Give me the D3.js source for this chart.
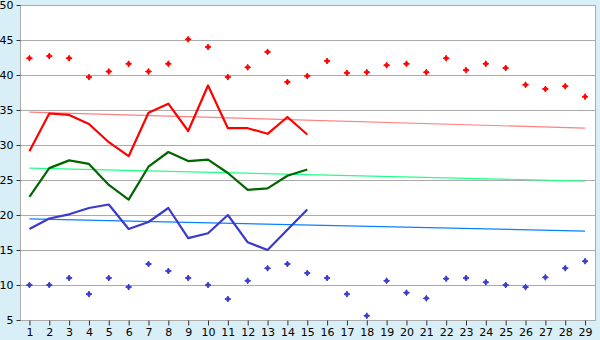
<!DOCTYPE html>
<html>
<head>
<meta charset="utf-8">
<script src="https://cdn.jsdelivr.net/npm/d3@7"></script>
<style>
  body { margin: 0; background: #d9eff7; }
  svg { display: block; font-family: "DejaVu Sans", Verdana, sans-serif; }
</style>
</head>
<body>
<svg width="600" height="340"></svg>
<script>
const days = d3.range(1, 30);
const lineDays = d3.range(1, 16);
const yTicks = [5, 10, 15, 20, 25, 30, 35, 40, 45, 50];

const highPoints = [42.4, 42.7, 42.4, 39.7, 40.5, 41.6, 40.5, 41.6, 45.1, 44.0,
    39.7, 41.1, 43.3, 39.0, 39.85, 42.0, 40.3, 40.4, 41.4, 41.6,
    40.4, 42.4, 40.7, 41.6, 41.0, 38.6, 38.0, 38.4, 36.9];
const lowPoints = [10.0, 10.0, 11.0, 8.7, 11.0, 9.7, 13.0, 12.0, 11.0, 10.0,
    8.0, 10.6, 12.4, 13.0, 11.7, 11.0, 8.7, 5.6, 10.6, 8.9,
    8.1, 10.9, 11.0, 10.4, 10.0, 9.7, 11.1, 12.4, 13.4];

const redLine = [29.1, 34.5, 34.3, 33.0, 30.4, 28.4, 34.6, 35.9, 32.0, 38.5, 32.4, 32.4, 31.6, 34.0, 31.5];
const greenLine = [22.6, 26.7, 27.8, 27.3, 24.3, 22.2, 26.9, 29.0, 27.7, 27.9, 26.0, 23.6, 23.8, 25.6, 26.5];
const blueLine = [18.0, 19.5, 20.1, 21.0, 21.5, 18.0, 19.0, 21.0, 16.7, 17.4, 20.0, 16.1, 15.0, 17.9, 20.8];

// trend lines: value at first and last day
const trendDays = [1, 29];
const redTrend = [34.7, 32.4];
const greenTrend = [26.7, 24.85];
const blueTrend = [19.45, 17.7];

const svg = d3.select('svg');

const plotLeft = 20, plotRight = 595, plotTop = 5, plotBottom = 320;

const x = d3.scaleLinear().domain([0.5, 29.5]).range([plotLeft - 0.5, plotRight]);
const y = d3.scaleLinear().domain([5, 50]).range([plotBottom, plotTop]);

// plot background
svg.append('rect')
    .attr('x', plotLeft + 0.5)
    .attr('y', plotTop + 0.5)
    .attr('width', plotRight - plotLeft)
    .attr('height', plotBottom - plotTop)
    .attr('fill', '#fff')
    .attr('stroke', '#aaa');

// grid
svg.append('g')
    .selectAll('line')
    .data(yTicks.slice(1, -1))
    .join('line')
    .attr('x1', plotLeft + 1)
    .attr('x2', plotRight)
    .attr('y1', d => Math.round(y(d)) + 0.5)
    .attr('y2', d => Math.round(y(d)) + 0.5)
    .attr('stroke', '#aaa');

// y axis
const yAxis = svg.append('g')
    .attr('transform', `translate(${plotLeft + 0.5},0)`)
    .call(d3.axisLeft(y).tickValues(yTicks).tickSize(4).tickPadding(3));
yAxis.select('.domain').remove();
yAxis.selectAll('.tick line').attr('stroke', '#333');
yAxis.selectAll('.tick text')
    .attr('font-size', 11)
    .attr('font-family', '"DejaVu Sans", Verdana, sans-serif')
    .attr('fill', '#000');

// x axis
const xAxis = svg.append('g')
    .attr('transform', `translate(0,${plotBottom + 0.5})`)
    .call(d3.axisBottom(x).tickValues(days).tickFormat(d3.format('d')).tickSize(5).tickPadding(3));
xAxis.select('.domain').remove();
xAxis.selectAll('.tick line').attr('stroke', '#333');
xAxis.selectAll('.tick text')
    .attr('font-size', 11)
    .attr('font-family', '"DejaVu Sans", Verdana, sans-serif')
    .attr('fill', '#000');

// trend lines
const trendLine = d3.line()
    .x((d, i) => x(trendDays[i]))
    .y(d => y(d));

[[redTrend, '#ff8080'], [greenTrend, '#22ff88'], [blueTrend, '#0a80ff']].forEach(([data, color]) => {
    svg.append('path')
        .attr('d', trendLine(data))
        .attr('fill', 'none')
        .attr('stroke', color)
        .attr('stroke-width', 1.2);
});

// main lines
const line = d3.line()
    .x((d, i) => x(lineDays[i]))
    .y(d => y(d));

[[redLine, '#ff0000'], [greenLine, '#006600'], [blueLine, '#3a3acc']].forEach(([data, color]) => {
    svg.append('path')
        .attr('d', line(data))
        .attr('fill', 'none')
        .attr('stroke', color)
        .attr('stroke-width', 2.2)
        .attr('stroke-linejoin', 'round');
});

// point markers
const marker = 'M0,-3L1,-1L3,0L1,1L0,3L-1,1L-3,0L-1,-1Z';

[[highPoints, '#ff0000'], [lowPoints, '#3a3acc']].forEach(([data, color]) => {
    svg.append('g')
        .selectAll('path')
        .data(data)
        .join('path')
        .attr('transform', (d, i) => `translate(${x(days[i])},${y(d)})`)
        .attr('d', marker)
        .attr('fill', color)
        .attr('stroke', color)
        .attr('stroke-width', 1);
});
</script>
</body>
</html>
